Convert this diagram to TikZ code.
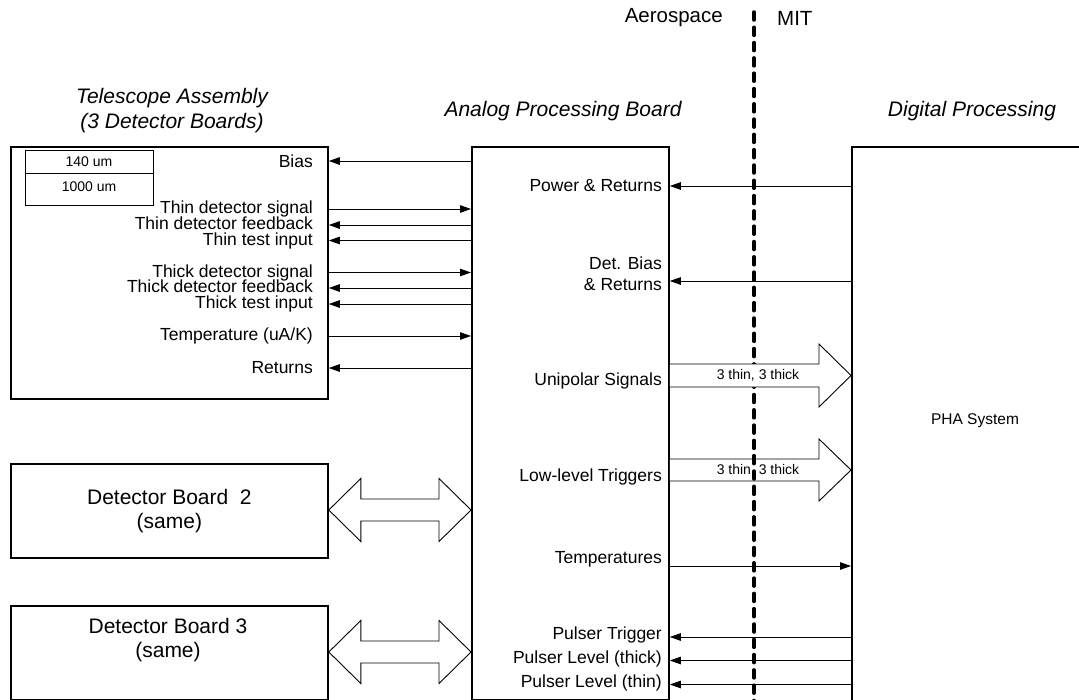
\documentclass[tikz,border=0pt]{standalone}
\usepackage{fontspec}
\setmainfont{Liberation Sans}
\usetikzlibrary{arrows.meta,calc}
\begin{document}
\begin{tikzpicture}[x=1pt,y=-1pt,
 box/.style={draw,line width=1.8pt,inner sep=0,anchor=north west},
 lbl/.style={anchor=east,inner sep=0,font=\fontsize{17.5}{16}\selectfont},
 tight/.style={text height=12pt,text depth=2.5pt},
 hdr/.style={font=\fontsize{21}{25}\selectfont\itshape,align=center,inner sep=0},
 sig/.style={line width=0.9pt,-{Triangle[length=11pt,width=7.5pt]}},
 fat/.style={draw,line width=0.9pt,fill=white,line join=miter},
 smalltxt/.style={font=\fontsize{14}{16}\selectfont,inner sep=0},
 bigtxt/.style={font=\fontsize{21}{24}\selectfont,align=center,inner sep=0},
 divline/.style={line width=3.5pt,dash pattern=on 8pt off 7.3pt,line cap=round}]
\clip (0,0) rectangle (1079,699);
\fill[white] (0,0) rectangle (1079,699);

% boxes
\node[box,minimum width=317pt,minimum height=252pt] (tel) at (10,146) {};
\node[box,minimum width=197pt,minimum height=553pt] (apb) at (471,146) {};
\node[box,minimum width=260pt,minimum height=560pt] (pha) at (851,146) {};
\node[box,minimum width=317pt,minimum height=94pt] (db2) at (10,463) {};
\node[box,minimum width=317pt,minimum height=94pt] (db3) at (10,605) {};
\node[draw,line width=1pt,minimum width=128pt,minimum height=55pt,inner sep=0,anchor=north west] (lay) at (25,150) {};
\draw[line width=1pt] (lay.west |- 0,173) -- (lay.east |- 0,173);
\node[smalltxt] (l140) at (89,161.5) {140 um};
\node[smalltxt] (l1000) at (89,187) {1000 um};

% headers
\node[hdr] (htel) at (172,111) {Telescope Assembly\\(3 Detector Boards)};
\node[hdr] (hapb) at (563,111) {Analog Processing Board};
\node[hdr] (hdig) at (972,111) {Digital Processing};
\node[anchor=east,inner sep=0,font=\fontsize{20.5}{22}\selectfont] (aero) at (723,18) {Aerospace};
\node[anchor=west,inner sep=0,font=\fontsize{20.5}{22}\selectfont] (mit) at (777,18) {MIT};

% box texts
\node[bigtxt] (t2) at (db2.center) {Detector Board\ \ 2\\(same)};
\node[bigtxt] (t3) at (168,640) {Detector Board 3\\(same)};
\node[inner sep=0,font=\fontsize{15.5}{18}\selectfont] (phat) at (975,421) {PHA System};

% telescope labels
\node[lbl] (bias) at (313,161) {Bias};
\node[lbl,tight] (tds) at (313,209) {Thin detector signal};
\node[lbl,tight] (tdf) at (313,225) {Thin detector feedback};
\node[lbl,tight] (tti) at (313,240.5) {Thin test input};
\node[lbl,tight] (kds) at (313,272.5) {Thick detector signal};
\node[lbl,tight] (kdf) at (313,288) {Thick detector feedback};
\node[lbl,tight] (kti) at (313,304) {Thick test input};
\node[lbl] (tmp) at (313,336) {Temperature (uA/K)};
\node[lbl] (ret) at (313,368) {Returns};

\draw[sig] (apb.west |- bias) -- (tel.east |- bias);
\draw[sig] (tel.east |- tds) -- (apb.west |- tds);
\draw[sig] (apb.west |- tdf) -- (tel.east |- tdf);
\draw[sig] (apb.west |- tti) -- (tel.east |- tti);
\draw[sig] (tel.east |- kds) -- (apb.west |- kds);
\draw[sig] (apb.west |- kdf) -- (tel.east |- kdf);
\draw[sig] (apb.west |- kti) -- (tel.east |- kti);
\draw[sig] (tel.east |- tmp) -- (apb.west |- tmp);
\draw[sig] (apb.west |- ret) -- (tel.east |- ret);

% APB labels
\node[lbl] (pwr) at (662,186) {Power \& Returns};
\node[lbl,align=right,font=\fontsize{17.5}{21}\selectfont] (dbias) at (662,273.5) {Det. Bias\\\& Returns};
\coordinate (dbiasy) at (0,281);
\node[lbl] (uni) at (662,381) {Unipolar Signals};
\node[lbl] (llt) at (662,477) {Low-level Triggers};
\node[lbl] (tmps) at (662,559) {Temperatures};
\coordinate (tmpsy) at (0,566);
\node[lbl,tight] (ptr) at (662,635) {Pulser Trigger};
\node[lbl,tight] (plk) at (662,659) {Pulser Level (thick)};
\node[lbl,tight] (pln) at (662,683) {Pulser Level (thin)};

\draw[sig] (pha.west |- pwr) -- (apb.east |- pwr);
\draw[sig] (pha.west |- dbiasy) -- (apb.east |- dbiasy);
\draw[sig] (apb.east |- tmpsy) -- (pha.west |- tmpsy);
\draw[sig] (pha.west |- 0,637) -- (apb.east |- 0,637);
\draw[sig] (pha.west |- 0,660.5) -- (apb.east |- 0,660.5);
\draw[sig] (pha.west |- 0,684.5) -- (apb.east |- 0,684.5);

% double arrows to detector boards 2 and 3
\foreach \src/\yy in {db2/510,db3/652} {
  \coordinate (L) at (\src.east |- 0,\yy);
  \coordinate (R) at (apb.west |- 0,\yy);
  \draw[fat] (L) -- ($(L)+(32,-31.5)$) -- ($(L)+(32,-11)$) -- ($(R)+(-32,-11)$)
    -- ($(R)+(-32,-31.5)$) -- (R) -- ($(R)+(-32,31.5)$) -- ($(R)+(-32,11)$)
    -- ($(L)+(32,11)$) -- ($(L)+(32,31.5)$) -- cycle;
}

% low-level triggers bus (under the divider line)
\coordinate (la) at (apb.east |- 0,470);
\coordinate (lb) at (pha.west |- 0,470);
\draw[fat] ($(la)+(0,-11)$) -- ($(lb)+(-32,-11)$) -- ($(lb)+(-32,-31)$) -- (lb)
  -- ($(lb)+(-32,31)$) -- ($(lb)+(-32,11)$) -- ($(la)+(0,11)$);
\node[smalltxt] (lltxt) at (758,470) {3 thin, 3 thick};

% organisational divider
\coordinate (dtop) at (754,12);
\coordinate (dbot) at (754,705);
\draw[divline] (dtop) -- (dbot);

% unipolar signals bus (over the divider line)
\coordinate (ua) at (apb.east |- 0,375.5);
\coordinate (ub) at (pha.west |- 0,375.5);
\draw[fat] ($(ua)+(0,-11.5)$) -- ($(ub)+(-32,-11.5)$) -- ($(ub)+(-32,-31.5)$) -- (ub)
  -- ($(ub)+(-32,31.5)$) -- ($(ub)+(-32,11.5)$) -- ($(ua)+(0,11.5)$);
\node[smalltxt] (untxt) at (758,375) {3 thin, 3 thick};
\end{tikzpicture}
\end{document}
